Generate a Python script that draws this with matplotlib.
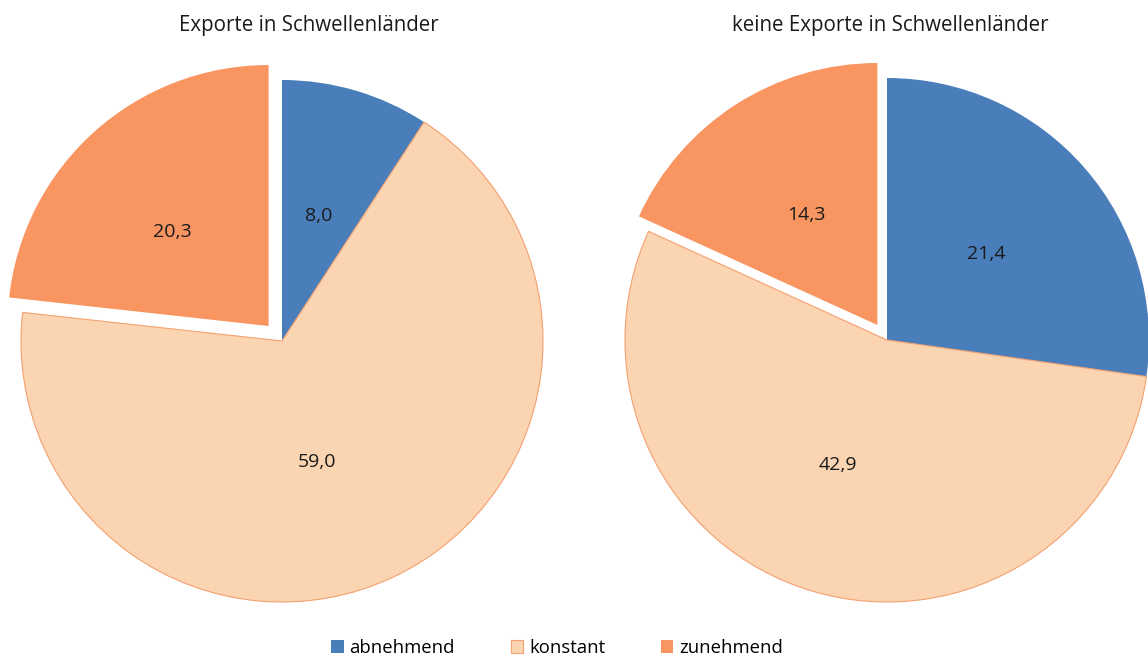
import matplotlib.pyplot as plt

# Categories and shares per group
categories = ['abnehmend', 'konstant', 'zunehmend']
exporte = [8.0, 59.0, 20.3]
keine_exporte = [21.4, 42.9, 14.3]
titles = ['Exporte in Schwellenländer', 'keine Exporte in Schwellenländer']

colors = ['#4A7EBB', '#FBD5B1', '#F99560']
plt.rcParams['font.family'] = ['Open Sans', 'DejaVu Sans']

W, H = 1148, 660
fig = plt.figure(figsize=(W / 100, H / 100), dpi=100)

PAD = 1.2


def pie_axes(cx, cy, r):
    # square axes of radius r (pixels) centred at cx, cy (from top-left)
    side = 2 * PAD * r
    ax = fig.add_axes([(cx - PAD * r) / W, (H - cy - PAD * r) / H, side / W, side / H])
    ax.axis('off')
    return ax


def fmt(vals):
    total = sum(vals)
    return lambda p: f'{p * total / 100:.1f}'.replace('.', ',')


# pie centre/radius in pixels, explode of the last slice, title x, label nudges
setups = [
    (exporte, 282, 341, 261, 0.077, 309, {1: (0.134, -0.464), 2: (-0.421, 0.418)}),
    (keine_exporte, 887, 340, 262, 0.068, 890, {1: (-0.187, -0.477)}),
]

wedges_first = None
for (vals, cx, cy, r, ex, tx, nudges), title in zip(setups, titles):
    ax = pie_axes(cx, cy, r)
    wedges, texts, autotexts = ax.pie(
        vals, colors=colors, startangle=90, counterclock=False,
        explode=[0, 0, ex], autopct=fmt(vals), pctdistance=0.5,
        wedgeprops=dict(linewidth=0))
    ax.set_xlim(-PAD, PAD)
    ax.set_ylim(-PAD, PAD)
    wedges[1].set_edgecolor('#F4A070')
    wedges[1].set_linewidth(0.8)
    for i, t in enumerate(autotexts):
        t.set_fontsize(14)
        t.set_color('#1a1a1a')
        if i in nudges:
            t.set_position(nudges[i])
    if wedges_first is None:
        wedges_first = wedges
    fig.text(tx / W, 1 - 25 / H, title, ha='center', va='center',
             fontsize=14.8, color='#1a1a1a')

fig.legend(wedges_first, categories, loc='center', bbox_to_anchor=(557 / W, 1 - 648 / H),
           ncol=3, frameon=False, fontsize=13.3, handlelength=0.7, handleheight=0.7,
           handletextpad=0.3, columnspacing=3.0)

fig.savefig('out.png', dpi=100, facecolor='white')
